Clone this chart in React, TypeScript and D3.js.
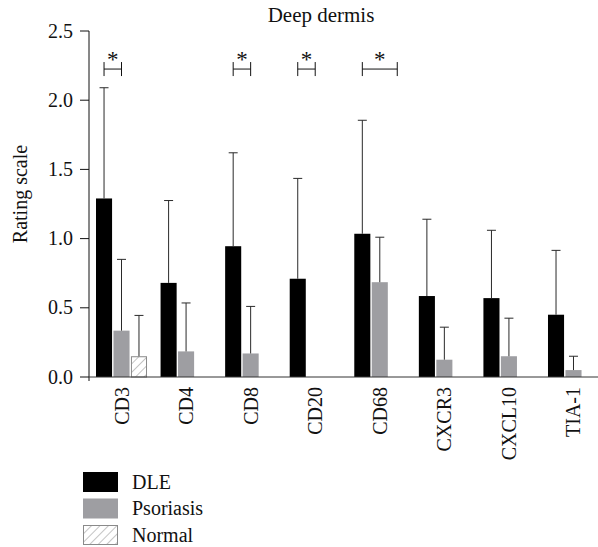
import React from "react";
import * as d3 from "d3";

const categories = ["CD3", "CD4", "CD8", "CD20", "CD68", "CXCR3", "CXCL10", "TIA-1"];
const seriesNames = ["DLE", "Psoriasis", "Normal"];
const dleValues = [1.29, 0.68, 0.945, 0.71, 1.035, 0.585, 0.57, 0.45];
const dleUpper = [2.09, 1.275, 1.62, 1.435, 1.855, 1.14, 1.06, 0.915];
const psoriasisValues = [0.335, 0.185, 0.17, 0, 0.685, 0.125, 0.15, 0.05];
const psoriasisUpper = [0.85, 0.535, 0.51, null, 1.01, 0.36, 0.425, 0.15];
const normalValues = [0.15, 0, 0, 0, 0, 0, 0, 0];
const normalUpper = [0.445, null, null, null, null, null, null, null];
const yTicks = [0, 0.5, 1.0, 1.5, 2.0, 2.5];
const significance = [
  { cat: "CD3", a: "DLE", b: "Psoriasis" },
  { cat: "CD8", a: "DLE", b: "Psoriasis" },
  { cat: "CD20", a: "DLE", b: "Psoriasis" },
  { cat: "CD68", a: "DLE", b: "Normal" },
];
const bracketLevel = 2.225;

const W = 598;
const H = 547;
const FONT = "Liberation Serif";

export default function App() {
  const y = d3.scaleLinear().domain([0, 2.5]).range([377, 31]);
  const x0 = d3.scaleBand<string>().domain(categories).range([96, 599]).paddingInner(0.21).paddingOuter(0);
  const x1 = d3.scaleBand<string>().domain(seriesNames).range([0, x0.bandwidth()]).paddingInner(0.08).paddingOuter(0);
  const fmt = d3.format(".1f");

  const series = [
    { name: "DLE", values: dleValues, upper: dleUpper, fill: "#000000", stroke: "none" },
    { name: "Psoriasis", values: psoriasisValues, upper: psoriasisUpper, fill: "#9e9ea2", stroke: "none" },
    { name: "Normal", values: normalValues, upper: normalUpper, fill: "url(#hatch)", stroke: "#8a8a8a" },
  ];

  const bw = x1.bandwidth();
  const cap = 9;
  const ts = { fontFamily: FONT };

  return (
    <svg width={W} height={H} style={{ position: "absolute", left: 0, top: 0 }}>
      <defs>
        <pattern id="hatch" patternUnits="userSpaceOnUse" width="6" height="6" patternTransform="rotate(45)">
          <rect width="6" height="6" fill="#ffffff" />
          <line x1="0" y1="0" x2="0" y2="6" stroke="#8a8a8a" strokeWidth="1" />
        </pattern>
      </defs>
      <rect width={W} height={H} fill="#fff" />

      <text x={321} y={22} fontSize={21} textAnchor="middle" fill="#111" style={ts}>Deep dermis</text>

      {categories.map((c, i) => (
        <g key={c} transform={`translate(${x0(c)},0)`}>
          {series.map((s) => {
            const v = s.values[i];
            const bx = x1(s.name)!;
            const u = s.upper[i];
            const o = s.stroke !== "none";
            return (
              <g key={s.name}>
                {v > 0 && (
                  <rect
                    x={bx + (o ? 0.5 : 0)}
                    y={y(v) + (o ? 0.5 : 0)}
                    width={bw - (o ? 1 : 0)}
                    height={y(0) - y(v) - (o ? 0.5 : 0)}
                    fill={s.fill}
                    stroke={s.stroke}
                    strokeWidth={1}
                  />
                )}
                {u != null && (
                  <g stroke="#2a2a2a" strokeWidth={1}>
                    <line x1={bx + bw / 2} x2={bx + bw / 2} y1={y(v)} y2={y(u)} />
                    <line x1={bx + bw / 2 - cap / 2} x2={bx + bw / 2 + cap / 2} y1={y(u)} y2={y(u)} />
                  </g>
                )}
              </g>
            );
          })}
        </g>
      ))}

      {significance.map((s) => {
        const xa = x0(s.cat)! + x1(s.a)! + bw / 2;
        const xb = x0(s.cat)! + x1(s.b)! + bw / 2;
        const yy = y(bracketLevel);
        return (
          <g key={s.cat}>
            <g stroke="#111" strokeWidth={1}>
              <line x1={xa} x2={xb} y1={yy} y2={yy} />
              <line x1={xa} x2={xa} y1={yy - 7} y2={yy + 7} />
              <line x1={xb} x2={xb} y1={yy - 7} y2={yy + 7} />
            </g>
            <text x={(xa + xb) / 2} y={yy - 2.5} fontSize={23} textAnchor="middle" fill="#111" style={ts}>*</text>
          </g>
        );
      })}

      <line x1={89} x2={89} y1={y(2.5)} y2={y(0) + 4} stroke="#111" strokeWidth={1} />
      {yTicks.map((t) => (
        <g key={t}>
          <line x1={80} x2={89} y1={y(t)} y2={y(t)} stroke="#111" strokeWidth={1} />
          <text x={73} y={y(t) + 6.5} fontSize={20} textAnchor="end" fill="#111" style={ts}>
            {fmt(t)}
          </text>
        </g>
      ))}
      <text
        transform={`translate(27, ${(y(0) + y(2.5)) / 2 - 10}) rotate(-90)`}
        fontSize={20}
        textAnchor="middle"
        fill="#111"
        style={ts}
      >
        Rating scale
      </text>

      <line x1={89} x2={598} y1={y(0)} y2={y(0)} stroke="#333" strokeWidth={1} />
      {categories.map((c) => (
        <text
          key={c}
          transform={`translate(${x0(c)! + x0.bandwidth() / 2 + 7}, 387) rotate(-90)`}
          fontSize={20}
          textAnchor="end"
          fill="#111"
          style={ts}
        >
          {c}
        </text>
      ))}

      {series.map((s, i) => {
        const o = s.stroke !== "none";
        return (
          <g key={s.name} transform={`translate(83, ${472 + i * 26.5})`}>
            <rect
              x={o ? 0.5 : 0}
              y={o ? 0.5 : 0}
              width={o ? 34 : 35}
              height={o ? 19 : 20}
              fill={s.fill}
              stroke={s.stroke}
            />
            <text x={49} y={16.5} fontSize={20} fill="#111" style={ts}>{s.name}</text>
          </g>
        );
      })}
    </svg>
  );
}
